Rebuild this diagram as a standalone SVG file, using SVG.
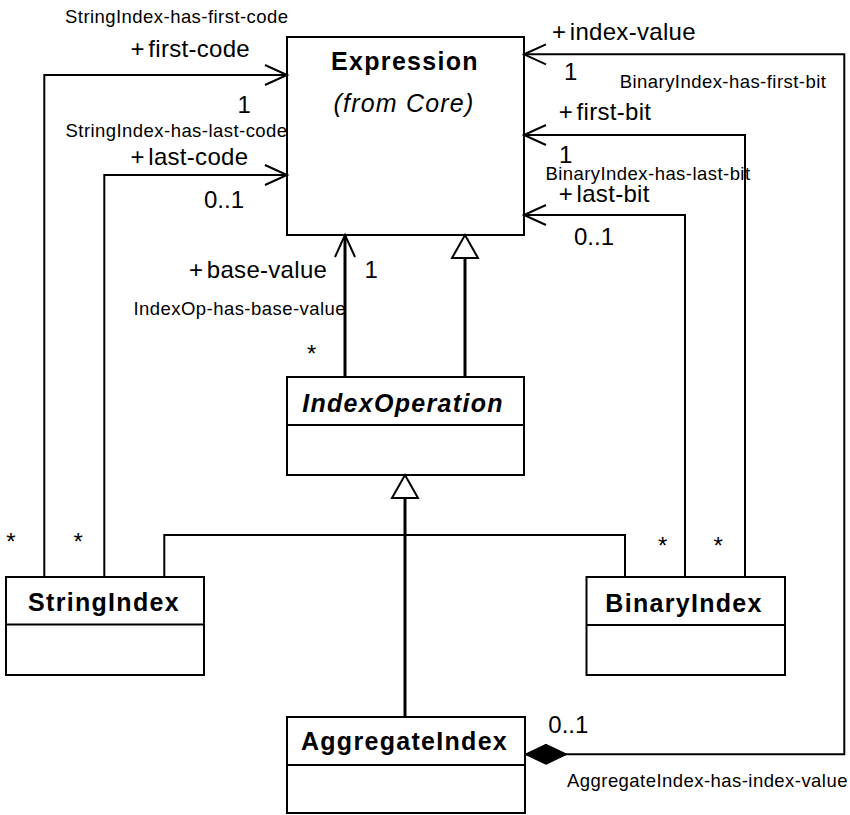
<svg xmlns="http://www.w3.org/2000/svg" width="850" height="815" viewBox="0 0 850 815">
<style>
text{font-family:"Liberation Sans",Arial,Helvetica,sans-serif;fill:#000}
.box{fill:#fff;stroke:#000;stroke-width:2}
.div{stroke:#000;stroke-width:2}
.ln{fill:none;stroke:#000;stroke-width:2}
.thick{fill:none;stroke:#000;stroke-width:3}
.cls{font-size:25px;font-weight:bold;letter-spacing:1.3px;text-anchor:middle}
.from{font-size:25px;font-style:italic;letter-spacing:1.2px;text-anchor:middle}
.role{font-size:24px;letter-spacing:0.3px;word-spacing:-3.5px}
.assoc{font-size:18.5px;letter-spacing:0.45px}
.mult{font-size:24px}
</style>
<defs>
<marker id="open" markerUnits="userSpaceOnUse" markerWidth="30" markerHeight="30" refX="22" refY="11" orient="auto" overflow="visible">
<path d="M0,1 L22,11 L0,21" fill="none" stroke="#000" stroke-width="2"/>
</marker>
<marker id="tri" markerUnits="userSpaceOnUse" markerWidth="30" markerHeight="30" refX="23" refY="13" orient="auto" overflow="visible">
<path d="M0,0 L23,13 L0,26 Z" fill="#fff" stroke="#000" stroke-width="2"/>
</marker>
<marker id="dia" markerUnits="userSpaceOnUse" markerWidth="44" markerHeight="22" refX="0" refY="10" orient="auto" overflow="visible">
<path d="M0,10 L21,0 L42,10 L21,20 Z" fill="#000" stroke="#000" stroke-width="1"/>
</marker>
</defs>
<rect width="850" height="815" fill="#fff"/>

<g id="expression">
<rect class="box" x="287" y="37" width="237" height="198"/>
<text class="cls" x="405" y="70">Expression</text>
<text class="from" x="404" y="111.7">(from Core)</text>
</g>

<g id="indexOperation">
<rect class="box" x="287" y="377" width="237" height="98"/>
<line class="div" x1="287" y1="425" x2="524" y2="425"/>
<text class="cls" x="403" y="411.7" font-style="italic">IndexOperation</text>
</g>

<g id="stringIndex">
<rect class="box" x="6" y="577" width="198" height="98"/>
<line class="div" x1="6" y1="624.5" x2="204" y2="624.5"/>
<text class="cls" x="104" y="610.7">StringIndex</text>
</g>

<g id="binaryIndex">
<rect class="box" x="586.5" y="577" width="198.5" height="98"/>
<line class="div" x1="586.5" y1="625" x2="785" y2="625"/>
<text class="cls" x="684" y="611.7">BinaryIndex</text>
</g>

<g id="aggregateIndex">
<rect class="box" x="287" y="717" width="238" height="96"/>
<line class="div" x1="287" y1="765" x2="525" y2="765"/>
<text class="cls" x="404.5" y="750">AggregateIndex</text>
</g>

<g id="connectors">
<!-- StringIndex-has-first-code -->
<path class="ln" d="M44.3,577 V75 H287" marker-end="url(#open)"/>
<!-- StringIndex-has-last-code -->
<path class="ln" d="M104.3,577 V175 H287" marker-end="url(#open)"/>
<!-- IndexOp-has-base-value -->
<path class="thick" d="M345,377 V235" marker-end="url(#open)"/>
<!-- IndexOperation generalizes to Expression -->
<path class="thick" d="M465,377 V235" marker-end="url(#tri)"/>
<!-- BinaryIndex-has-first-bit -->
<path class="ln" d="M745,577 V135 H524" marker-end="url(#open)"/>
<!-- BinaryIndex-has-last-bit -->
<path class="ln" d="M685,577 V215 H524" marker-end="url(#open)"/>
<!-- AggregateIndex-has-index-value -->
<path class="ln" d="M525,754.3 H844.3 V54.3 H524" marker-start="url(#dia)" marker-end="url(#open)"/>
<!-- subclasses to IndexOperation -->
<path class="ln" d="M164.3,577 V535 H625 V577"/>
<path class="thick" d="M405,717 V475" marker-end="url(#tri)"/>

<text class="assoc" x="65" y="23.3">StringIndex-has-first-code</text>
<text class="role" x="130.5" y="56.7">+ first-code</text>
<text class="mult" x="237.5" y="113">1</text>
<text class="assoc" x="65.5" y="136.7">StringIndex-has-last-code</text>
<text class="role" x="130.5" y="165">+ last-code</text>
<text class="mult" x="204" y="208">0..1</text>
<text class="role" x="189" y="278">+ base-value</text>
<text class="mult" x="364.5" y="278">1</text>
<text class="assoc" x="133.5" y="315">IndexOp-has-base-value</text>
<text class="mult" x="307" y="362">*</text>
<text class="mult" x="6.3" y="550">*</text>
<text class="mult" x="73.6" y="550">*</text>
<text class="mult" x="658" y="554">*</text>
<text class="mult" x="713.6" y="554">*</text>

<text class="role" x="552" y="40">+ index-value</text>
<text class="mult" x="564" y="80">1</text>
<text class="assoc" x="619.7" y="88.3">BinaryIndex-has-first-bit</text>
<text class="role" x="558.8" y="120">+ first-bit</text>
<text class="mult" x="559" y="163">1</text>
<text class="assoc" x="545.4" y="180">BinaryIndex-has-last-bit</text>
<text class="role" x="558.8" y="201.7">+ last-bit</text>
<text class="mult" x="574" y="245">0..1</text>
<text class="mult" x="548.3" y="733">0..1</text>
<text class="assoc" x="567" y="786.7">AggregateIndex-has-index-value</text>
</g>
</svg>
